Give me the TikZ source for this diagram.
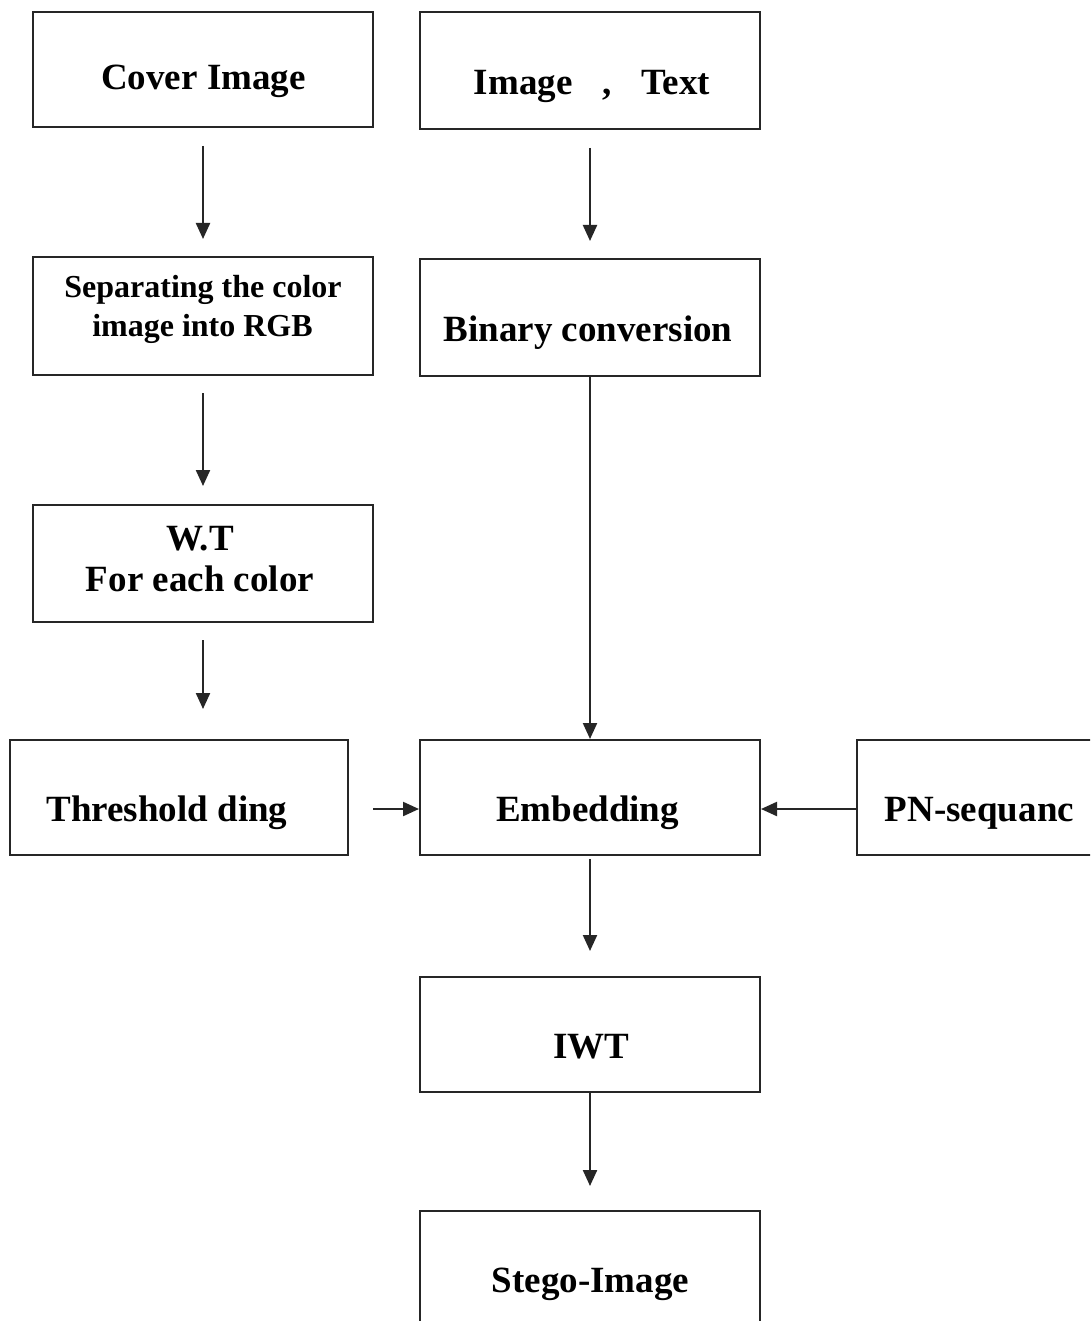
\documentclass[tikz,border=0pt]{standalone}
\usepackage{fontspec}
\setmainfont{Liberation Serif}
\usetikzlibrary{arrows.meta}
\begin{document}
\begin{tikzpicture}[x=1pt,y=-1pt,
  box/.style={draw=black!85,line width=2pt,rectangle,minimum height=115pt,inner sep=0pt,fill=none},
  lbl/.style={anchor=base,inner sep=0pt,font=\fontsize{37}{40}\selectfont\bfseries},
  slbl/.style={anchor=base,inner sep=0pt,font=\fontsize{32}{34}\selectfont\bfseries},
  arr/.style={draw=black!85,line width=2.2pt,-{Triangle[length=16pt,width=14pt]}}]
\clip (0,0) rectangle (1090,1321);
\fill[white] (0,0) rectangle (1090,1321);
% boxes
\node[box,minimum width=340pt] (cover) at (203,69.5) {};
\node[box,minimum width=340pt,minimum height=117pt] (imgtxt) at (590,70.5) {};
\node[box,minimum width=340pt,minimum height=118pt] (sep) at (203,316) {};
\node[box,minimum width=340pt,minimum height=117pt] (bin) at (590,317.5) {};
\node[box,minimum width=340pt,minimum height=117pt] (wt) at (203,563.5) {};
\node[box,minimum width=338pt] (thr) at (179,797.5) {};
\node[box,minimum width=340pt] (emb) at (590,797.5) {};
\node[box,minimum width=340pt] (pn) at (1027,797.5) {};
\node[box,minimum width=340pt] (iwt) at (590,1034.5) {};
\node[box,minimum width=340pt] (stego) at (590,1268.5) {};
% labels
\node[lbl] (cover-t) at (203.5,90) {Cover Image};
\node[lbl] (imgtxt-t) at (592,95) {Image\hspace{30pt},\hspace{30pt}Text};
\node[slbl] (sep-t1) at (203,298) {Separating the color};
\node[slbl] (sep-t2) at (202.5,336) {image into RGB};
\node[lbl] (bin-t) at (588,341) {Binary conversion};
\node[lbl] (wt-t1) at (200,550) {W.T};
\node[lbl] (wt-t2) at (200,591) {For each color};
\node[lbl] (thr-t) at (167,821) {Threshold ding};
\node[lbl] (emb-t) at (587.5,821) {Embedding};
\node[lbl] (pn-t) at (979.5,821) {PN-sequanc};
\node[lbl] (iwt-t) at (591.5,1058) {IWT};
\node[lbl] (stego-t) at (590.5,1292) {Stego-Image};
% connectors
\draw[arr,shorten <=18pt,shorten >=17pt] (cover.south) -- (sep.north);
\draw[arr,shorten <=18pt,shorten >=17pt] (imgtxt.south) -- (bin.north);
\draw[arr,shorten <=17pt,shorten >=18pt] (sep.south) -- (wt.north);
\draw[arr,shorten <=17pt,shorten >=30pt] (wt.south) -- (wt.south |- thr.north);
\draw[arr] (bin.south) -- (emb.north);
\draw[arr,shorten <=24pt] ([yshift=-11.5pt]thr.east) -- ([yshift=-11.5pt]emb.west);
\draw[arr] ([yshift=-11.5pt]pn.west) -- ([yshift=-11.5pt]emb.east);
\draw[arr,shorten <=3pt,shorten >=25pt] (emb.south) -- (iwt.north);
\draw[arr,shorten >=24pt] (iwt.south) -- (stego.north);
\end{tikzpicture}
\end{document}
